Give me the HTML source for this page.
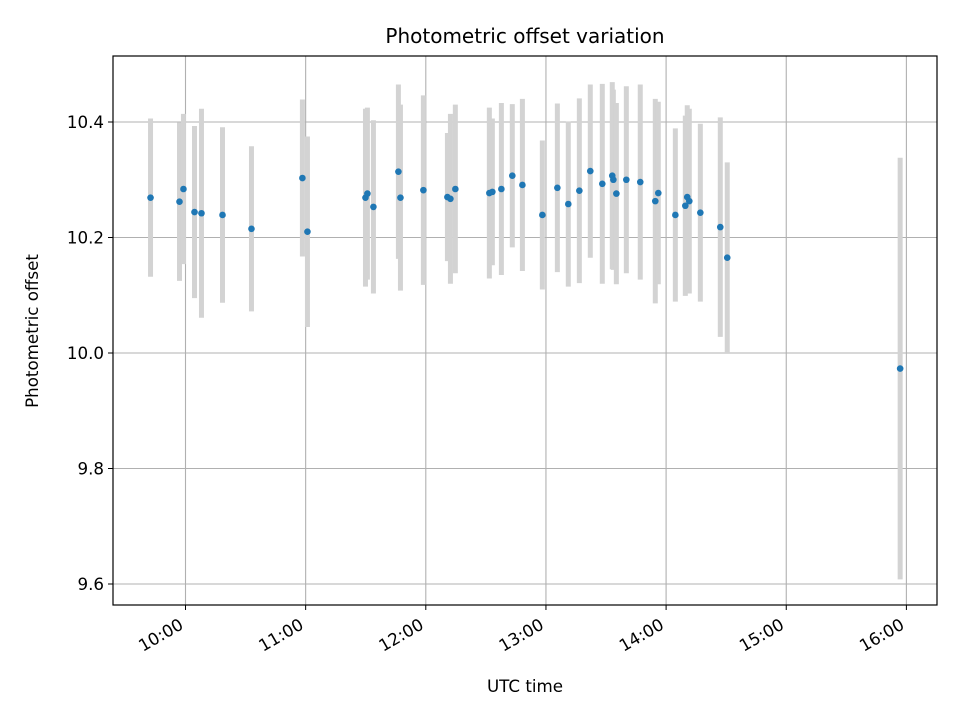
<!DOCTYPE html>
<html><head><meta charset="utf-8"><style>
html,body{margin:0;padding:0;background:#fff}
svg{display:block;font-family:"DejaVu Sans","Liberation Sans",sans-serif}
</style></head><body>
<svg id="chart" width="960" height="720" viewBox="0 0 960 720">
<rect width="960" height="720" fill="#fff"/>
<text x="525" y="43" style="font-size:20px" text-anchor="middle">Photometric offset variation</text>
<g id="grid"></g>
<g id="errs"></g>
<g id="pts"></g>
<rect x="113" y="56" width="824" height="549" fill="none" stroke="#000" stroke-width="1.2"/>
<g id="axes"></g>
<text x="525" y="692" style="font-size:16.7px" text-anchor="middle">UTC time</text>
<text transform="translate(38,331) rotate(-90)" style="font-size:16.7px" text-anchor="middle">Photometric offset</text>
</svg>
<script>
const times = [9.709,9.950,9.983,10.075,10.133,10.308,10.549,10.973,11.015,11.498,11.514,11.564,11.772,11.789,11.980,12.180,12.205,12.246,12.529,12.554,12.629,12.720,12.804,12.970,13.095,13.186,13.278,13.369,13.469,13.552,13.561,13.586,13.669,13.785,13.910,13.935,14.077,14.160,14.176,14.193,14.285,14.451,14.509,15.948];
const offsets = [10.269,10.262,10.284,10.244,10.242,10.239,10.215,10.303,10.210,10.269,10.276,10.253,10.314,10.269,10.282,10.270,10.267,10.284,10.277,10.279,10.284,10.307,10.291,10.239,10.286,10.258,10.281,10.315,10.293,10.307,10.300,10.276,10.300,10.296,10.263,10.277,10.239,10.255,10.270,10.263,10.243,10.218,10.165,9.973];
const errors = [0.137,0.137,0.130,0.149,0.181,0.152,0.143,0.136,0.165,0.154,0.149,0.150,0.151,0.161,0.164,0.111,0.147,0.146,0.148,0.127,0.149,0.124,0.149,0.129,0.146,0.143,0.160,0.150,0.173,0.162,0.156,0.157,0.162,0.169,0.177,0.158,0.150,0.156,0.159,0.160,0.154,0.190,0.165,0.365];
const xTicks = [10,11,12,13,14,15,16];
const xTickLabels = ["10:00","11:00","12:00","13:00","14:00","15:00","16:00"];
const yTicks = [9.6,9.8,10.0,10.2,10.4];
const yTickLabels = ["9.6","9.8","10.0","10.2","10.4"];

const NS="http://www.w3.org/2000/svg";
function xS(h){return 185.5+(h-10)*120.15;}
function yS(v){return 122+(10.4-v)*577.5;}
function mk(tag,attrs,parent){const e=document.createElementNS(NS,tag);for(const k in attrs)e.setAttribute(k,attrs[k]);parent.appendChild(e);return e;}
const grid=document.getElementById('grid'),axes=document.getElementById('axes'),errs=document.getElementById('errs'),pts=document.getElementById('pts');
xTicks.forEach((t,i)=>{
  const x=xS(t);
  const g=mk('line',{x1:x,x2:x,y1:56,y2:605,stroke:'#b0b0b0','stroke-width':1.1},grid);
  
  
  const tk=mk('line',{x1:x,x2:x,y1:605,y2:610,stroke:'#000','stroke-width':1},axes);
  
  
  const tx=mk('text',{x:0,y:0,style:'font-size:16.7px','text-anchor':'end',transform:`translate(${x-1},${628}) rotate(-30)`},axes);
  tx.textContent=xTickLabels[i];
  
  
});
yTicks.forEach((t,i)=>{
  const y=yS(t);
  const g=mk('line',{x1:113,x2:937,y1:y,y2:y,stroke:'#b0b0b0','stroke-width':1.1},grid);
  
  
  const tk=mk('line',{x1:108,x2:113,y1:y,y2:y,stroke:'#000','stroke-width':1},axes);
  
  
  const tx=mk('text',{x:104,y:y+6,style:'font-size:16.7px','text-anchor':'end'},axes);
  tx.textContent=yTickLabels[i];
  
  
});
times.forEach((t,i)=>{
  const x=xS(t);
  const e=mk('line',{x1:x,x2:x,y1:yS(offsets[i]+errors[i]),y2:yS(offsets[i]-errors[i]),stroke:'#d3d3d3','stroke-width':5},errs);
  
  
  const c=mk('circle',{cx:x,cy:yS(offsets[i]),r:3.3,fill:'#1f77b4'},pts);
  
  
});
</script>
</body></html>
